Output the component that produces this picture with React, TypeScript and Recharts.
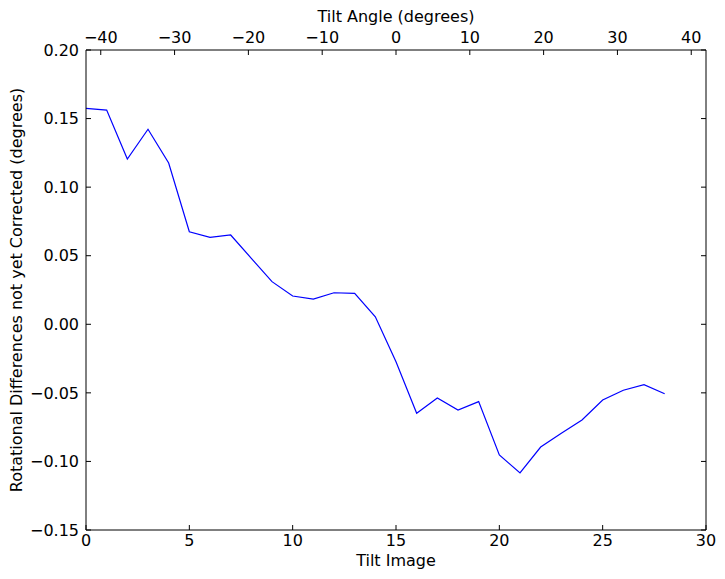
import React from 'react';
import { LineChart, Line, XAxis, YAxis } from 'recharts';

const tiltImages = [
  0, 1, 2, 3, 4, 5, 6, 7, 8, 9, 10, 11, 12, 13, 14, 15, 16, 17, 18, 19, 20,
  21, 22, 23, 24, 25, 26, 27, 28,
];

const rotDiff = [
  0.1575, 0.1562, 0.1205, 0.1422, 0.1176, 0.0675, 0.0634, 0.0651, 0.0481,
  0.0311, 0.0206, 0.0184, 0.023, 0.0226, 0.0055, -0.0273, -0.0649, -0.0538,
  -0.0625, -0.0564, -0.0953, -0.1084, -0.0895, -0.0795, -0.0698, -0.0552,
  -0.0481, -0.044, -0.0506,
];

const imageTicks = [0, 5, 10, 15, 20, 25, 30];
const angleTicks = [-40, -30, -20, -10, 0, 10, 20, 30, 40];
const angleDomain = [-42, 42];
const diffTicks = [-0.15, -0.1, -0.05, 0, 0.05, 0.1, 0.15, 0.2];

const data = tiltImages.map((img, i) => ({ img, diff: rotDiff[i] }));

const font = { fontFamily: 'DejaVu Sans', fontSize: 16, fill: '#000' };
const minus = (s: string) => s.replace('-', '\u2212');

export default function App() {
  return (
    <div style={{ position: 'absolute', left: 0, top: 0, width: 725, height: 579 }}>
      <LineChart width={725} height={579} data={data} margin={{ top: 0, right: 0, bottom: 0, left: 0 }}>
        <XAxis
          xAxisId="bottom"
          dataKey="img"
          type="number"
          domain={[0, 30]}
          ticks={imageTicks}
          orientation="bottom"
          height={49}
          tickSize={-5}
          tickMargin={10}
          axisLine={{ stroke: '#000' }}
          tickLine={{ stroke: '#000' }}
          tick={font}
          label={{ value: 'Tilt Image', position: 'insideBottom', offset: 13, style: font }}
        />
        {/* secondary tilt-angle axis, not tied to the series */}
        <XAxis
          xAxisId="top"
          dataKey="angle"
          type="number"
          domain={angleDomain}
          allowDataOverflow
          ticks={angleTicks}
          orientation="top"
          height={50}
          tickSize={-5}
          tickMargin={12}
          axisLine={{ stroke: '#000' }}
          tickLine={{ stroke: '#000' }}
          tick={font}
          tickFormatter={(v: number) => minus(String(v))}
          label={{ value: 'Tilt Angle (degrees)', position: 'insideTop', offset: 11, style: font }}
        />
        <YAxis
          yAxisId="left"
          type="number"
          domain={[-0.15, 0.2]}
          ticks={diffTicks}
          width={86}
          tickSize={-5}
          tickMargin={12}
          axisLine={{ stroke: '#000' }}
          tickLine={{ stroke: '#000' }}
          tick={font}
          tickFormatter={(v: number) => minus(v.toFixed(2))}
          label={{
            value: 'Rotational Differences not yet Corrected (degrees)',
            angle: -90,
            position: 'insideLeft',
            offset: 16,
            style: { ...font, textAnchor: 'middle' },
          }}
        />
        <YAxis
          yAxisId="right"
          orientation="right"
          dataKey="diff"
          type="number"
          domain={[-0.15, 0.2]}
          allowDataOverflow
          ticks={diffTicks}
          width={19}
          tickSize={-5}
          axisLine={{ stroke: '#000' }}
          tickLine={{ stroke: '#000' }}
          tick={font}
          tickFormatter={() => ''}
        />
        <Line
          xAxisId="bottom"
          yAxisId="left"
          dataKey="diff"
          stroke="#0000ff"
          strokeWidth={1.2}
          dot={false}
          isAnimationActive={false}
        />
      </LineChart>
    </div>
  );
}
